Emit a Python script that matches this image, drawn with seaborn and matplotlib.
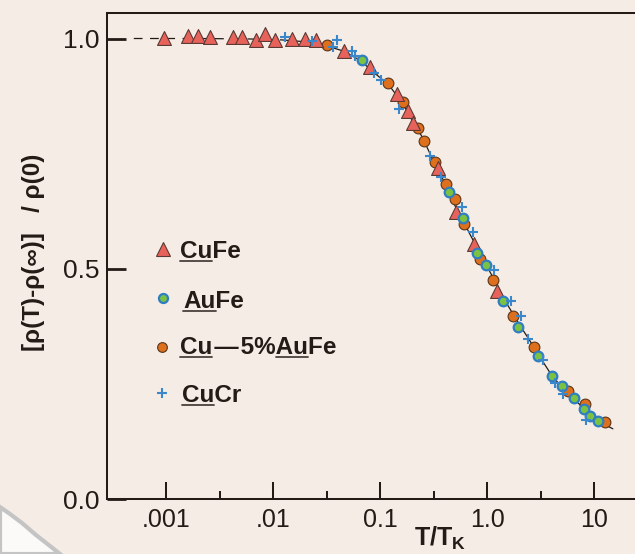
import matplotlib
matplotlib.use("Agg")
import matplotlib.pyplot as plt
from matplotlib.lines import Line2D
from matplotlib.patches import Polygon
import seaborn as sns

# ---------------- data: normalised Kondo resistivity vs T/T_K ----------------
cufe_t = [0.00096, 0.00162, 0.00197, 0.00258, 0.00423, 0.00513, 0.00693, 0.00833,
          0.01044, 0.0149, 0.0199, 0.0252, 0.0456, 0.080, 0.144, 0.183, 0.205,
          0.346, 0.513, 0.757, 1.253]
cufe_r = [1.001, 1.006, 1.006, 1.004, 1.004, 1.004, 0.997, 1.009,
          0.996, 1.000, 0.998, 0.997, 0.972, 0.939, 0.879, 0.842, 0.816,
          0.720, 0.624, 0.554, 0.452]

aufe_t = [0.0675, 0.440, 0.593, 0.815, 0.972, 1.403, 1.961, 2.98, 4.09, 5.00,
          6.46, 8.11, 9.23, 10.89]
aufe_r = [0.953, 0.666, 0.610, 0.534, 0.508, 0.431, 0.373, 0.312, 0.268, 0.246,
          0.219, 0.195, 0.181, 0.169]

cuaufe_t = [0.032, 0.119, 0.164, 0.228, 0.259, 0.327, 0.412, 0.506, 0.606, 0.869,
            1.146, 1.762, 2.75, 5.75, 8.24, 12.7]
cuaufe_r = [0.986, 0.903, 0.862, 0.806, 0.778, 0.733, 0.684, 0.651, 0.597, 0.522,
            0.477, 0.398, 0.330, 0.236, 0.207, 0.167]

cucr_t = [0.01294, 0.0231, 0.0366, 0.0394, 0.0553, 0.059, 0.0879, 0.1016, 0.149,
          0.291, 0.373, 0.588, 0.743, 1.161, 1.686, 2.066, 2.43, 3.36, 4.33, 5.16, 8.41]
cucr_r = [1.003, 0.995, 0.981, 0.996, 0.972, 0.961, 0.925, 0.909, 0.846,
          0.744, 0.699, 0.634, 0.581, 0.498, 0.431, 0.398, 0.347, 0.302, 0.252, 0.228, 0.172]

# universal curve
curve_t = [0.0005, 0.002, 0.006, 0.012, 0.02, 0.03, 0.045, 0.065, 0.09, 0.12, 0.16,
           0.2, 0.25, 0.3, 0.4, 0.5, 0.6, 0.75, 0.9, 1.0, 1.2, 1.5, 2.0, 2.5, 3.0,
           4.0, 5.0, 6.5, 8.0, 10.0, 12.0, 15.0]
curve_r = [1.000, 1.000, 0.999, 0.997, 0.993, 0.986, 0.973, 0.953, 0.924, 0.900, 0.862,
           0.822, 0.785, 0.745, 0.688, 0.638, 0.603, 0.560, 0.523, 0.505, 0.472, 0.428,
           0.380, 0.345, 0.315, 0.270, 0.243, 0.218, 0.197, 0.177, 0.165, 0.153]
curve_dash_end = 4  # index where the dashed low-T part ends

x_major = [0.001, 0.01, 0.1, 1.0, 10.0]
x_major_labels = [".001", ".01", "0.1", "1.0", "10"]
x_minor = [10 ** -2.5, 10 ** -1.5, 10 ** -0.5, 10 ** 0.5]
y_major = [0.0, 0.5, 1.0]
y_major_labels = ["0.0", "0.5", "1.0"]

# ---------------- style ----------------
sns.set_style("ticks")
plt.rcParams["font.family"] = ["Liberation Sans", "DejaVu Sans"]
plt.rcParams["mathtext.fontset"] = "custom"
plt.rcParams["mathtext.rm"] = "Liberation Sans"
plt.rcParams["mathtext.bf"] = "Liberation Sans:bold"
plt.rcParams["mathtext.it"] = "Liberation Sans:italic"

W, H = 635, 554
bg = "#F4ECE5"
ink = "#241B17"

red_face, red_edge = "#E8625C", "#5B3A33"
green_face, green_edge = "#7CC242", "#2F7EC2"
orange_face, orange_edge = "#DE6F1C", "#5A3418"
blue = "#3B87CB"

fig = plt.figure(figsize=(W / 100, H / 100), dpi=100)
fig.patch.set_facecolor(bg)

ax_l, ax_r, ax_t, ax_b = 106.5, 635.0, 13.3, 499.3
ax = fig.add_axes([ax_l / W, 1 - ax_b / H, (ax_r - ax_l) / W, (ax_b - ax_t) / H])
ax.set_facecolor(bg)
ax.set_xscale("log")

# curve: dashed on the plateau, solid through the crossover
sns.lineplot(x=curve_t[:curve_dash_end + 1], y=curve_r[:curve_dash_end + 1], ax=ax,
             color=ink, lw=0.9, linestyle=(0, (7, 6)), zorder=2)
sns.lineplot(x=curve_t[curve_dash_end:], y=curve_r[curve_dash_end:], ax=ax,
             color=ink, lw=0.9, zorder=2)

sns.scatterplot(x=cuaufe_t, y=cuaufe_r, ax=ax, marker="o", s=60,
                color=orange_face, edgecolor=orange_edge, linewidth=0.8, zorder=3)
sns.scatterplot(x=cufe_t, y=cufe_r, ax=ax, marker="^", s=100,
                color=red_face, edgecolor=red_edge, linewidth=0.8, zorder=4)
sns.scatterplot(x=aufe_t, y=aufe_r, ax=ax, marker="o", s=48,
                color=green_face, edgecolor=green_edge, linewidth=1.6, zorder=5)
sns.scatterplot(x=cucr_t, y=cucr_r, ax=ax, marker="+", s=60,
                color=blue, edgecolor=blue, linewidth=1.5, zorder=6)

# ---------------- axes ----------------
ax.set_xlim(10 ** (-3 - (166 - ax_l) / 107), 10 ** (-3 + (ax_r - 166) / 107))
ax.set_ylim(0, 1.0547)
ax.set_xticks(x_major)
ax.set_xticklabels(x_major_labels)
ax.set_xticks(x_minor, minor=True)
ax.set_xticklabels([], minor=True)
ax.set_yticks(y_major)
ax.set_yticklabels(y_major_labels)
ax.yaxis.set_minor_locator(matplotlib.ticker.NullLocator())

ax.tick_params(axis="x", which="major", direction="in", length=12, width=1.45,
               color=ink, labelsize=18, labelcolor=ink, pad=6)
ax.tick_params(axis="x", which="minor", direction="in", length=5.5, width=1.45, color=ink)
ax.tick_params(axis="y", which="major", direction="in", length=13.5, width=2.0,
               color=ink, labelsize=19, labelcolor=ink, pad=5)

for side in ["left", "bottom", "top"]:
    ax.spines[side].set_color(ink)
    ax.spines[side].set_linewidth(1.45)
ax.spines["right"].set_visible(False)

ax.set_xlabel(r"$\mathbf{T/T_K}$", fontsize=18, color=ink)
ax.xaxis.set_label_coords((440 - ax_l) / (ax_r - ax_l), -0.052)
ax.set_ylabel("[ρ(T)-ρ(∞)]   / ρ(0)", fontsize=17.5, fontweight="bold", color=ink)
ax.yaxis.set_label_coords((45 - ax_l) / (ax_r - ax_l), 0.509)

# ---------------- legend with underlined host metals ----------------
renderer = fig.canvas.get_renderer()
leg_fs = 17.5


def text_width(s):
    t = fig.text(0, 0, s, fontsize=leg_fs, fontweight="bold")
    w = t.get_window_extent(renderer).width
    t.remove()
    return w


def legend_label(x, y, parts):
    full = "".join(p for p, _ in parts)
    fig.text(x / W, 1 - y / H, full, fontsize=leg_fs, fontweight="bold",
             color=ink, ha="left", va="baseline")
    prefix = ""
    for piece, under in parts:
        if under:
            x0 = x + (text_width(prefix) if prefix else 0.0)
            x1 = x + text_width(prefix + piece)
            uy = y + 3.0
            fig.add_artist(Line2D([x0 / W, x1 / W], [1 - uy / H, 1 - uy / H],
                                  transform=fig.transFigure, color="#4a403c", lw=1.3))
        prefix += piece


def legend_marker(x, y, **kw):
    fig.add_artist(Line2D([x / W], [1 - y / H], transform=fig.transFigure,
                          linestyle="none", **kw))


legend_marker(163, 249, marker="^", markersize=10.5, markerfacecolor=red_face,
              markeredgecolor=red_edge, markeredgewidth=0.8)
legend_label(180, 258, [("Cu", True), ("Fe", False)])

legend_marker(163.3, 297.7, marker="o", markersize=6.5, markerfacecolor=green_face,
              markeredgecolor=green_edge, markeredgewidth=1.6)
legend_label(183.3, 308, [("Au", True), ("Fe", False)])

legend_marker(161.7, 346.7, marker="o", markersize=7.0, markerfacecolor=orange_face,
              markeredgecolor=orange_edge, markeredgewidth=0.8)
legend_label(180, 354, [("Cu", True), ("\u200a\u2014\u200a", False), ("5%", False),
                        ("Au", True), ("Fe", False)])

legend_marker(162.3, 393.3, marker="+", markersize=7.5, markeredgecolor=blue,
              markeredgewidth=1.5)
legend_label(182, 402, [("Cu", True), ("Cr", False)])

# rounded page edge in the lower-left corner
corner = [(0, 507), (10, 514), (22, 523), (36, 535), (50, 546), (60, 554), (0, 554)]
fig.add_artist(Polygon([(px / W, 1 - py / H) for px, py in corner], closed=True,
                       transform=fig.transFigure, facecolor="#FBFAF8",
                       edgecolor="#C4C4C4", lw=3, zorder=0))

fig.savefig("out.png", dpi=100, facecolor=bg)
